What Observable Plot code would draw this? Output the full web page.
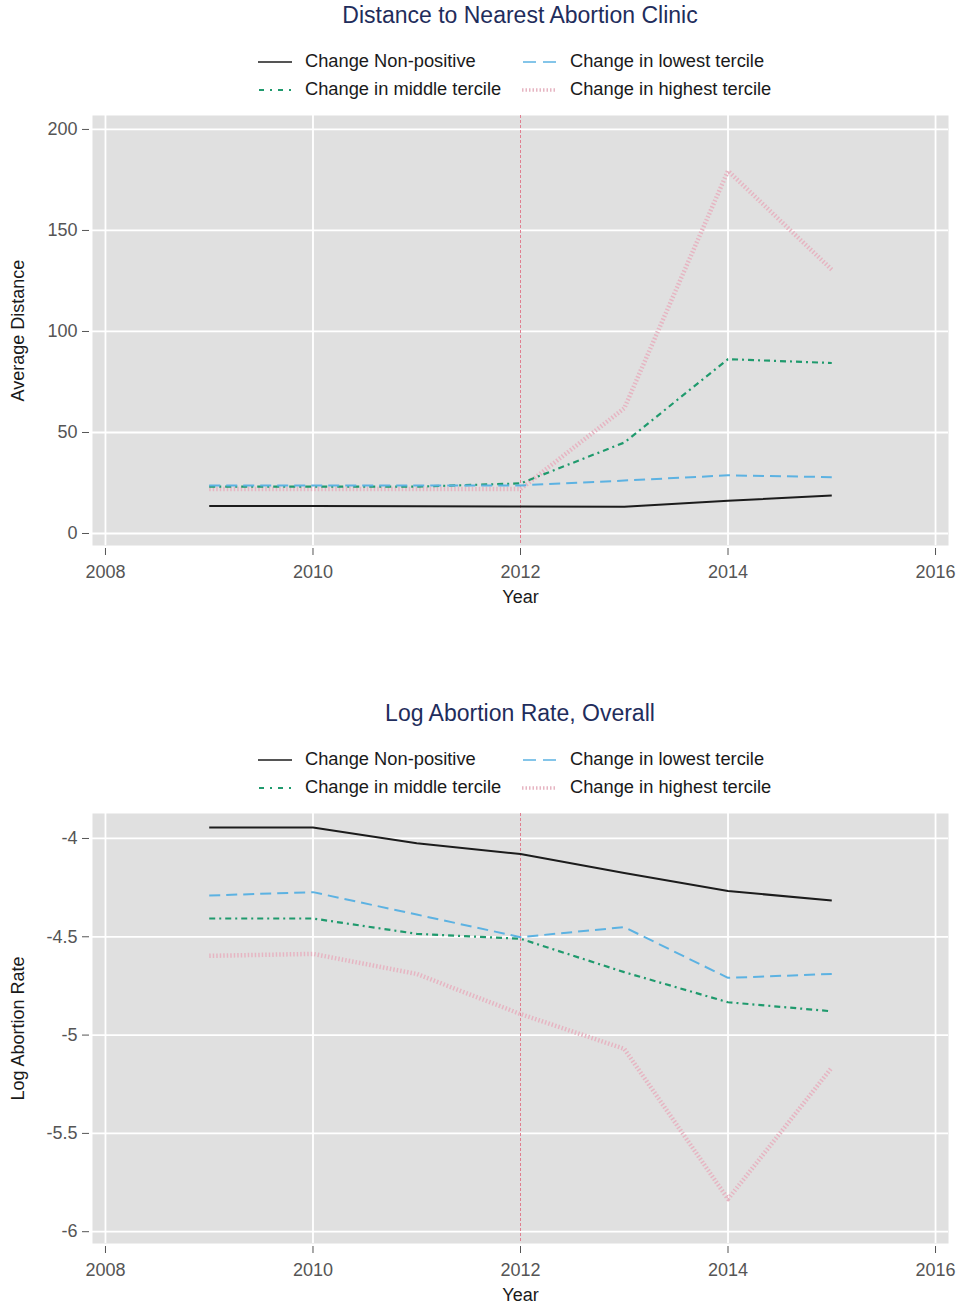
<!DOCTYPE html>
<html>
<head>
<meta charset="utf-8">
<script src="https://cdn.jsdelivr.net/npm/d3@7"></script>
<script src="https://cdn.jsdelivr.net/npm/@observablehq/plot@0.6"></script>
<style>
  html, body { margin: 0; padding: 0; background: #ffffff; }
  body { width: 962px; height: 1309px; position: relative; overflow: hidden; font-family: "Liberation Sans", Arial, sans-serif; }
  .block { position: absolute; left: 0; width: 962px; height: 698px; }
  .title { position: absolute; left: 0; width: 1040px; top: 1px; height: 28px; line-height: 28px; text-align: center; font-size: 23px; color: #1f2d5c; }
  .leg { position: absolute; font-size: 18.3px; color: #1a1a1a; height: 22px; line-height: 22px; white-space: nowrap; }
  .sw { position: absolute; }
</style>
</head>
<body>
<div id="root"></div>
<script>
// ---- Data ----
const years = [2009, 2010, 2011, 2012, 2013, 2014, 2015];
const seriesNames = ["Change Non-positive", "Change in lowest tercile", "Change in middle tercile", "Change in highest tercile"];

// Chart 1: Distance to Nearest Abortion Clinic (Average Distance)
const distNonPositive = [13.6, 13.6, 13.5, 13.4, 13.3, 16.2, 18.8];
const distLowest      = [23.8, 23.8, 23.8, 23.8, 26.2, 28.8, 27.9];
const distMiddle      = [23.2, 23.2, 23.2, 24.8, 45.0, 86.3, 84.4];
const distHighest     = [22.0, 22.0, 22.0, 22.0, 62.0, 179.5, 130.6];

// Chart 2: Log Abortion Rate, Overall
const rateNonPositive = [-3.944, -3.944, -4.024, -4.079, -4.176, -4.267, -4.316];
const rateLowest      = [-4.290, -4.273, -4.387, -4.502, -4.451, -4.709, -4.689];
const rateMiddle      = [-4.407, -4.407, -4.485, -4.510, -4.680, -4.833, -4.879];
const rateHighest     = [-4.597, -4.587, -4.689, -4.893, -5.070, -5.834, -5.165];

// Axes
const xTicks = [2008, 2010, 2012, 2014, 2016];
const xGrid = [2008, 2010, 2014, 2016];
const policyYear = [2012];
const distTicks = [0, 50, 100, 150, 200];
const rateTicks = [-6, -5.5, -5, -4.5, -4];

// Styles per series
const styles = [
  {stroke: "#1c1c1c", strokeWidth: 2, strokeDasharray: null},
  {stroke: "#5cb2e2", strokeWidth: 2, strokeDasharray: "11,6"},
  {stroke: "#1f9a6d", strokeWidth: 2.2, strokeDasharray: "6,4,2,4"},
  {stroke: "#e6b5c2", strokeWidth: 4.5, strokeDasharray: "1.5,2"}
];

function toRows(vals) { return years.map((y, i) => ({year: y, value: vals[i]})); }

function makeBlock(top, title, ylabel, yDomain, yTicks, seriesVals, tickFmt) {
  const block = document.createElement("div");
  block.className = "block";
  block.style.top = top + "px";

  const t = document.createElement("div");
  t.className = "title";
  t.textContent = title;
  block.appendChild(t);

  const legPos = [
    {sx: 258, tx: 305, y: 62},
    {sx: 522, tx: 570, y: 62},
    {sx: 258, tx: 305, y: 90},
    {sx: 522, tx: 570, y: 90}
  ];
  seriesNames.forEach((name, i) => {
    const p = legPos[i];
    const st = styles[i];
    const ns = "http://www.w3.org/2000/svg";
    const svg = document.createElementNS(ns, "svg");
    svg.setAttribute("width", 36);
    svg.setAttribute("height", 10);
    svg.setAttribute("class", "sw");
    svg.style.left = p.sx + "px";
    svg.style.top = (p.y - 5) + "px";
    const ln = document.createElementNS(ns, "line");
    ln.setAttribute("x1", 0); ln.setAttribute("x2", 34);
    ln.setAttribute("y1", 5); ln.setAttribute("y2", 5);
    ln.setAttribute("stroke", st.stroke);
    ln.setAttribute("stroke-width", i === 3 ? 3.5 : st.strokeWidth - 0.4);
    if (st.strokeDasharray) ln.setAttribute("stroke-dasharray", st.strokeDasharray);
    if (i === 1) { ln.setAttribute("stroke-dasharray", "13,7"); ln.setAttribute("x1", 1); }
    if (i === 2) { ln.setAttribute("stroke-dasharray", "5,6,2,6"); ln.setAttribute("x1", 1); }
    svg.appendChild(ln);
    block.appendChild(svg);

    const lab = document.createElement("div");
    lab.className = "leg";
    lab.style.left = p.tx + "px";
    lab.style.top = (p.y - 12) + "px";
    lab.textContent = name;
    block.appendChild(lab);
  });

  const lineMarks = [3, 2, 1, 0].map(i => Plot.line(toRows(seriesVals[i]), {
    x: "year", y: "value",
    stroke: styles[i].stroke,
    strokeWidth: styles[i].strokeWidth,
    strokeDasharray: styles[i].strokeDasharray,
    strokeLinejoin: "round",
    strokeLinecap: "butt"
  }));

  const chart = Plot.plot({
    width: 962,
    height: 520,
    marginTop: 10,
    marginBottom: 80,
    marginLeft: 92,
    marginRight: 14,
    x: {domain: [2007.875, 2016.125]},
    y: {domain: yDomain},
    style: {fontFamily: "'Liberation Sans', Arial, sans-serif", fontSize: "18px", background: "transparent", overflow: "visible"},
    marks: [
      Plot.frame({fill: "#e0e0e0", stroke: null}),
      Plot.ruleY(yTicks, {y: d => d, stroke: "#ffffff", strokeWidth: 1.8}),
      Plot.ruleX(xGrid, {x: d => d, stroke: "#ffffff", strokeWidth: 1.8}),
      Plot.ruleX(policyYear, {x: d => d, stroke: "#e07f90", strokeWidth: 1, strokeDasharray: "3,2"}),
      ...lineMarks,
      Plot.axisX({ticks: xTicks, tickFormat: d => String(d), tickSize: 7, tickPadding: 10, dy: 3, label: null, color: "#555555", fontSize: 18}),
      Plot.axisY({ticks: yTicks, tickFormat: tickFmt, tickSize: 7, tickPadding: 5, dx: -3, label: null, color: "#555555", fontSize: 18}),
      Plot.text(["Year"], {frameAnchor: "bottom", dy: 57, text: d => d, fill: "#1a1a1a", fontSize: 18, textAnchor: "middle"}),
      Plot.text([ylabel], {frameAnchor: "left", dx: -74, rotate: -90, text: d => d, fill: "#1a1a1a", fontSize: 18, textAnchor: "middle"})
    ]
  });
  chart.style.position = "absolute";
  chart.style.left = "0px";
  chart.style.top = "105px";
  block.appendChild(chart);
  document.getElementById("root").appendChild(block);
}

makeBlock(0, "Distance to Nearest Abortion Clinic", "Average Distance",
  [-5.94, 206.9], distTicks,
  [distNonPositive, distLowest, distMiddle, distHighest], d => String(d));

makeBlock(698, "Log Abortion Rate, Overall", "Log Abortion Rate",
  [-6.06, -3.873], rateTicks,
  [rateNonPositive, rateLowest, rateMiddle, rateHighest], d => String(d));
</script>
</body>
</html>
